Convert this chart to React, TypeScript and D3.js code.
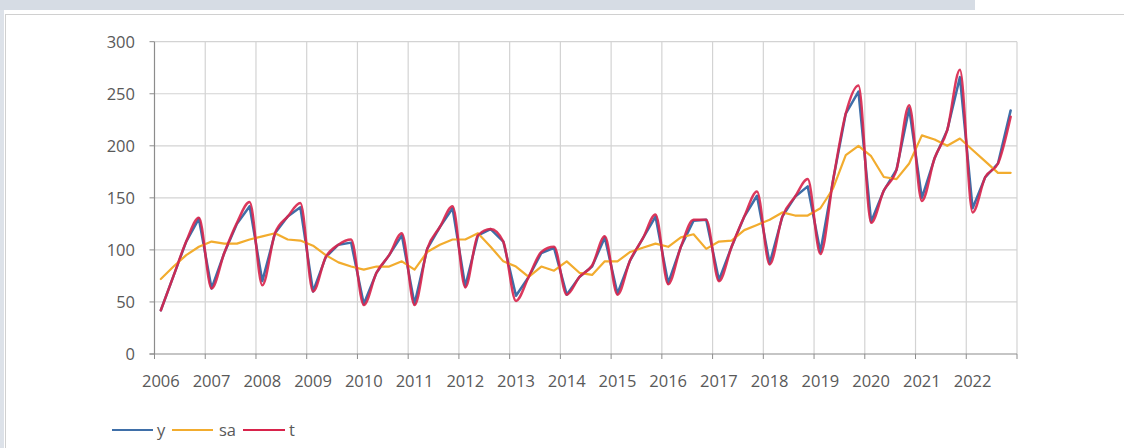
import React from "react";
import * as d3 from "d3";

const years = [2006, 2007, 2008, 2009, 2010, 2011, 2012, 2013, 2014, 2015, 2016, 2017, 2018, 2019, 2020, 2021, 2022];
const quarters = ["Q1", "Q2", "Q3", "Q4"];

const yValues = [
  42, 75, 108, 130,
  63, 97, 125, 142,
  70, 116, 132, 141,
  60, 93, 105, 107,
  48, 78, 95, 114,
  48, 101, 122, 140,
  65, 114, 120, 108,
  56, 74, 97, 102,
  57, 74, 84, 112,
  58, 90, 111, 132,
  68, 103, 128, 129,
  71, 103, 132, 152,
  87, 132, 151, 161,
  98, 167, 231, 252,
  127, 157, 177, 236,
  150, 188, 215, 266,
  140, 170, 183, 234,
];

const saValues = [
  72, 84, 95, 103,
  108, 106, 106, 110,
  113, 116, 110, 109,
  104, 95, 88, 84,
  81, 84, 84, 89,
  81, 98, 105, 110,
  110, 116, 103, 89,
  84, 74, 84, 80,
  89, 78, 76, 89,
  89, 98, 102, 106,
  103, 112, 115, 101,
  108, 109, 119, 124,
  129, 136, 133, 133,
  140, 159, 191, 200,
  190, 170, 168, 183,
  210, 206, 200, 207,
  196, 185, 174, 174,
];

const tValues = [
  42, 75, 108, 131,
  63, 97, 126, 146,
  66, 116, 132, 145,
  60, 93, 105, 110,
  47, 78, 95, 116,
  47, 101, 122, 142,
  64, 114, 120, 108,
  51, 74, 98, 103,
  57, 74, 85, 113,
  57, 90, 111, 134,
  67, 103, 129, 129,
  70, 103, 132, 156,
  86, 132, 151, 168,
  96, 167, 231, 258,
  126, 157, 177, 239,
  147, 188, 215, 273,
  136, 170, 183, 228,
];

const yTicks = [0, 50, 100, 150, 200, 250, 300];
const seriesNames = ["y", "sa", "t"];

const COLORS: Record<string, string> = { y: "#3F6FA8", sa: "#F2AC2E", t: "#D8234B" };
const FONT = "'Open Sans', 'Liberation Sans', sans-serif";

export default function App() {
  const W = 1124;
  const H = 448;
  const left = 154.5;
  const right = 1017;
  const top = 41.7;
  const bottom = 354;

  const periods = years.flatMap((yr) => quarters.map((q) => `${yr}${q}`));
  const x = d3.scalePoint<string>().domain(periods).range([left, right]).padding(0.5);
  const xb = d3.scaleBand<number>().domain(years).range([left, right]);
  const y = d3.scaleLinear().domain([0, 300]).range([bottom, top]);

  const makeLine = (vals: number[], curve: d3.CurveFactory) =>
    d3
      .line<number>()
      .x((_, i) => x(periods[i]) as number)
      .y((d) => y(d))
      .curve(curve)(vals) as string;

  const series = [
    { name: "y", path: makeLine(yValues, d3.curveLinear) },
    { name: "sa", path: makeLine(saValues, d3.curveLinear) },
    { name: "t", path: makeLine(tValues, d3.curveMonotoneX) },
  ];

  const yearEdges = [...years.map((yr) => xb(yr) as number), right];

  const legendItems = [
    { name: seriesNames[0], x1: 112, x2: 153, tx: 157 },
    { name: seriesNames[1], x1: 172, x2: 213, tx: 219 },
    { name: seriesNames[2], x1: 243, x2: 285, tx: 289 },
  ];

  return (
    <svg
      width={W}
      height={H}
      style={{ position: "absolute", left: 0, top: 0, background: "#fff" }}
      fontFamily={FONT}
    >
      <rect x={0} y={0} width={W} height={H} fill="#fff" />
      <rect x={0} y={0} width={975} height={10} fill="#D6DCE4" />
      <rect x={0} y={10} width={4} height={H - 10} fill="#DDE2E9" />
      <line x1={5} x2={W} y1={14.5} y2={14.5} stroke="#D0D0D0" strokeWidth={1} />
      <line x1={5.5} x2={5.5} y1={14} y2={H} stroke="#D0D0D0" strokeWidth={1} />

      {yTicks.filter((t) => t > 0).map((t) => (
        <line key={`h${t}`} x1={left} x2={right} y1={y(t)} y2={y(t)} stroke="#D3D3D3" strokeWidth={1.2} />
      ))}
      {yearEdges.slice(1).map((ex, i) => (
        <line key={`v${i}`} x1={ex} x2={ex} y1={top} y2={bottom} stroke="#D3D3D3" strokeWidth={1.2} />
      ))}

      <line x1={left} x2={left} y1={top} y2={bottom} stroke="#8C8C8C" strokeWidth={1.2} />
      {yTicks.map((t) => (
        <line key={`yt${t}`} x1={left - 5} x2={left} y1={y(t)} y2={y(t)} stroke="#8C8C8C" strokeWidth={1} />
      ))}
      <line x1={left - 5} x2={right} y1={bottom} y2={bottom} stroke="#8C8C8C" strokeWidth={1.2} />
      {yearEdges.map((ex, i) => (
        <line key={`xt${i}`} x1={ex} x2={ex} y1={bottom} y2={bottom + 5} stroke="#8C8C8C" strokeWidth={1} />
      ))}

      {yTicks.map((t) => (
        <text key={`yl${t}`} x={135} y={y(t) + 6} textAnchor="end" fontSize={16.5} fill="#595959">
          {t}
        </text>
      ))}
      {years.map((yr) => (
        <text key={`xl${yr}`} x={x(`${yr}Q1`) as number} y={387} textAnchor="middle" fontSize={16.5} fill="#595959">
          {yr}
        </text>
      ))}

      {series.map((s) => (
        <path
          key={s.name}
          d={s.path}
          fill="none"
          stroke={COLORS[s.name]}
          strokeWidth={s.name === "sa" ? 2.2 : 2.5}
          strokeOpacity={s.name === "t" ? 0.9 : 1}
          strokeLinejoin="round"
          strokeLinecap="round"
        />
      ))}

      {legendItems.map((l) => (
        <g key={`lg${l.name}`}>
          <line x1={l.x1} x2={l.x2} y1={430} y2={430} stroke={COLORS[l.name]} strokeWidth={2.2} />
          <text x={l.tx} y={436} fontSize={16.5} fill="#595959">
            {l.name}
          </text>
        </g>
      ))}
    </svg>
  );
}
